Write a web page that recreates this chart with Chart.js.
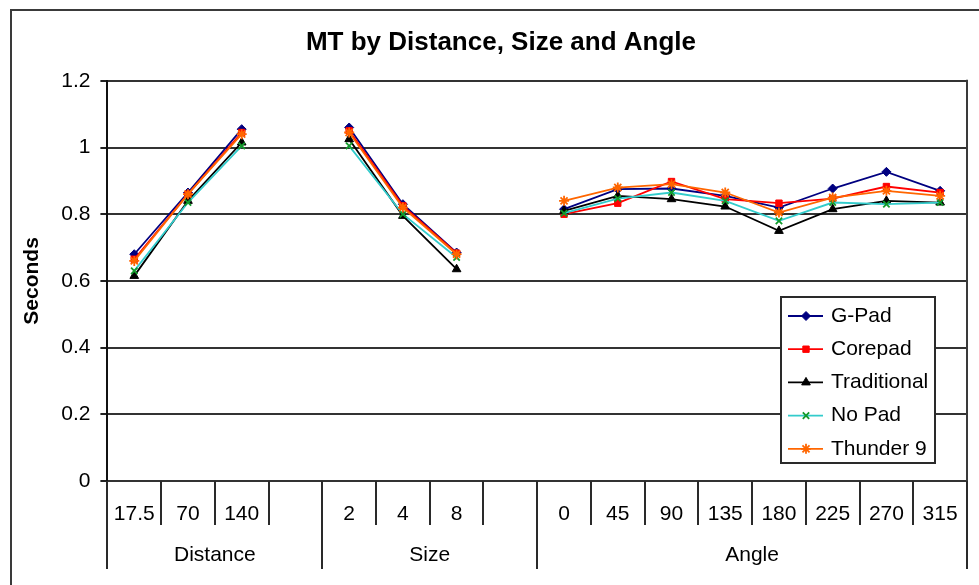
<!DOCTYPE html>
<html><head><meta charset="utf-8">
<script src="https://cdn.jsdelivr.net/npm/chart.js@4/dist/chart.umd.min.js"></script>
<style>html,body{margin:0;padding:0;background:#fff;overflow:hidden}</style>
</head><body>
<canvas id="c" width="979" height="585"></canvas>
<script>
// ---- data ----
const categories = ['17.5','70','140','','2','4','8','','0','45','90','135','180','225','270','315'];
const groupNames = ['Distance','Size','Angle'];
const groupSizes = [4, 4, 8];
const yTickLabels = ['0','0.2','0.4','0.6','0.8','1','1.2'];
const seriesNames = ['G-Pad','Corepad','Traditional','No Pad','Thunder 9'];
const gPad        = [0.680, 0.865, 1.055, null, 1.060, 0.830, 0.685, null, 0.815, 0.875, 0.877, 0.855, 0.820, 0.877, 0.927, 0.870];
const corepad     = [0.665, 0.860, 1.045, null, 1.050, 0.825, 0.683, null, 0.800, 0.833, 0.898, 0.845, 0.833, 0.847, 0.883, 0.865];
const traditional = [0.615, 0.840, 1.015, null, 1.025, 0.795, 0.635, null, 0.810, 0.855, 0.845, 0.823, 0.750, 0.815, 0.840, 0.835];
const noPad       = [0.630, 0.835, 1.005, null, 1.005, 0.800, 0.670, null, 0.803, 0.847, 0.865, 0.840, 0.780, 0.835, 0.830, 0.835];
const thunder9    = [0.660, 0.860, 1.040, null, 1.045, 0.820, 0.680, null, 0.840, 0.880, 0.890, 0.865, 0.805, 0.850, 0.870, 0.855];

const FONT = "'Liberation Sans', Arial, sans-serif";

function ds(label, data, line, marker, style, radius, order) {
  return {
    label, data, order,
    borderColor: line, backgroundColor: marker,
    pointBackgroundColor: marker, pointBorderColor: marker,
    pointStyle: style, pointRadius: radius, pointHoverRadius: radius,
    pointBorderWidth: (style === 'crossRot' || style === 'star') ? 1.8 : 1,
    borderWidth: 1.8, tension: 0, spanGaps: false
  };
}

// outer frame
const framePlugin = {
  id: 'frame',
  beforeDraw(chart) {
    const ctx = chart.ctx;
    ctx.save();
    ctx.fillStyle = '#fff';
    ctx.fillRect(0, 0, chart.width, chart.height);
    ctx.strokeStyle = '#3a3a3a';
    ctx.lineWidth = 2;
    ctx.strokeRect(11, 10, chart.width + 20, chart.height + 20);
    ctx.restore();
  },
  beforeDatasetsDraw(chart) {
    const a = chart.chartArea, ctx = chart.ctx;
    ctx.save();
    ctx.strokeStyle = '#3a3a3a';
    ctx.lineWidth = 2;
    ctx.beginPath();
    ctx.moveTo(a.right, a.top - 1);
    ctx.lineTo(a.right, a.bottom);
    ctx.stroke();
    ctx.restore();
  }
};

// category separators + group labels below axis
const bracketPlugin = {
  id: 'brackets',
  afterDraw(chart) {
    const xs = chart.scales.x, a = chart.chartArea, ctx = chart.ctx;
    const n = categories.length;
    const boundaries = new Set([0]);
    let acc = 0;
    groupSizes.forEach(s => { acc += s; boundaries.add(acc); });
    ctx.save();
    ctx.strokeStyle = '#2a2a2a';
    ctx.lineWidth = 2;
    for (let i = 0; i <= n; i++) {
      const x = Math.round(xs.getPixelForValue(i - 0.5));
      const isGroup = boundaries.has(i);
      ctx.beginPath();
      ctx.moveTo(x, a.bottom);
      ctx.lineTo(x, a.bottom + (isGroup ? 88 : 44));
      ctx.stroke();
    }
    ctx.fillStyle = '#000';
    ctx.font = '21px ' + FONT;
    ctx.textAlign = 'center';
    ctx.textBaseline = 'middle';
    let start = 0;
    groupNames.forEach((g, k) => {
      const end = start + groupSizes[k];
      const x0 = xs.getPixelForValue(start - 0.5), x1 = xs.getPixelForValue(end - 0.5);
      ctx.fillText(g, (x0 + x1) / 2, a.bottom + 74);
      start = end;
    });
    ctx.restore();
  }
};

// legend box inside plot area
const legendPlugin = {
  id: 'boxLegend',
  afterDraw(chart) {
    const ctx = chart.ctx;
    const bx = 781, by = 297, bw = 154, bh = 166, rowH = 33.2;
    ctx.save();
    ctx.fillStyle = '#fff';
    ctx.fillRect(bx, by, bw, bh);
    ctx.strokeStyle = '#2a2a2a';
    ctx.lineWidth = 2;
    ctx.strokeRect(bx, by, bw, bh);
    const dsets = chart.data.datasets;
    dsets.forEach((d, i) => {
      const y = by + 19 + i * rowH;
      ctx.strokeStyle = d.borderColor;
      ctx.lineWidth = d.borderWidth;
      ctx.beginPath();
      ctx.moveTo(bx + 7, y);
      ctx.lineTo(bx + 42, y);
      ctx.stroke();
      ctx.fillStyle = d.pointBackgroundColor;
      ctx.strokeStyle = d.pointBorderColor;
      ctx.lineWidth = d.pointBorderWidth;
      if (Chart.helpers && Chart.helpers.drawPoint) {
        Chart.helpers.drawPoint(ctx, {pointStyle: d.pointStyle, radius: d.pointRadius, rotation: 0, borderWidth: d.pointBorderWidth}, bx + 25, y);
      }
      ctx.fillStyle = '#000';
      ctx.font = '21px ' + FONT;
      ctx.textAlign = 'left';
      ctx.textBaseline = 'middle';
      ctx.fillText(d.label, bx + 50, y);
    });
    ctx.restore();
  }
};

new Chart(document.getElementById('c'), {
  type: 'line',
  data: {
    labels: categories,
    datasets: [
      ds(seriesNames[0], gPad,        '#000080', '#000080', 'rectRot',  4.5, 5),
      ds(seriesNames[1], corepad,     '#FF0000', '#FF0000', 'rect',     4.5, 4),
      ds(seriesNames[2], traditional, '#000000', '#000000', 'triangle', 5,   3),
      ds(seriesNames[3], noPad,       '#33CCCC', '#129a2a', 'crossRot', 4.5, 2),
      ds(seriesNames[4], thunder9,    '#FF6600', '#FF6600', 'star',     5,   1)
    ]
  },
  options: {
    responsive: false,
    devicePixelRatio: 1,
    animation: false,
    layout: { padding: { top: 0, left: 35, right: 12, bottom: 37.4 } },
    plugins: {
      legend: { display: false },
      tooltip: { enabled: false },
      title: {
        display: true,
        text: 'MT by Distance, Size and Angle',
        color: '#000',
        font: { family: FONT, size: 26, weight: 'bold' },
        padding: { top: 27, bottom: 22.6 }
      }
    },
    scales: {
      x: {
        type: 'category',
        offset: true,
        grid: { display: false, drawTicks: false },
        border: { display: false },
        ticks: {
          autoSkip: false, maxRotation: 0, minRotation: 0,
          color: '#000', font: { family: FONT, size: 21 }, padding: 20.7
        }
      },
      y: {
        min: 0, max: 1.2,
        grid: { color: '#333', lineWidth: 2, tickLength: 7, drawTicks: true, tickColor: '#222' },
        border: { display: true, color: '#111', width: 2 },
        ticks: {
          stepSize: 0.2, color: '#000', padding: 10,
          font: { family: FONT, size: 21 },
          callback: (v, i) => yTickLabels[i]
        },
        title: {
          display: true, text: 'Seconds', color: '#000',
          font: { family: FONT, size: 21, weight: 'bold' },
          padding: { top: -15.6, bottom: 6.6 }
        }
      }
    }
  },
  plugins: [framePlugin, bracketPlugin, legendPlugin]
});
</script>
</body></html>
